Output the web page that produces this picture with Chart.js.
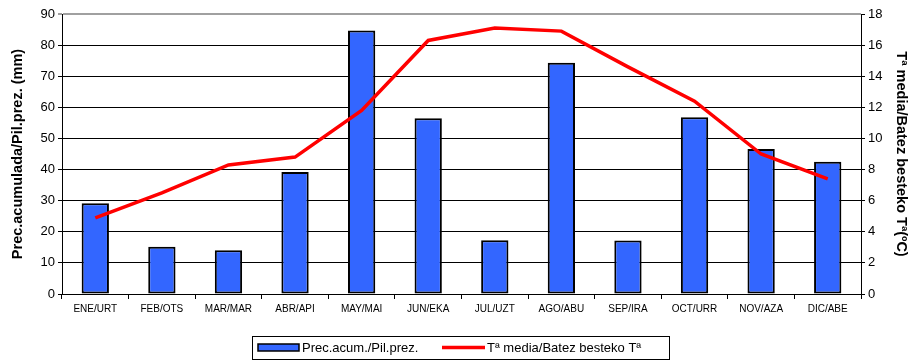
<!DOCTYPE html>
<html>
<head>
<meta charset="utf-8">
<script src="https://cdn.jsdelivr.net/npm/chart.js@4"></script>
<style>
  body { margin: 0; background: #fff; }
  canvas { display: block; }
</style>
</head>
<body>
<canvas id="climChart" width="911" height="363"></canvas>
<script>
// datos
const months = ['ENE/URT', 'FEB/OTS', 'MAR/MAR', 'ABR/API', 'MAY/MAI', 'JUN/EKA',
                'JUL/UZT', 'AGO/ABU', 'SEP/IRA', 'OCT/URR', 'NOV/AZA', 'DIC/ABE'];
const precip = [29.2, 15.2, 14.1, 39.2, 84.7, 56.5, 17.3, 74.3, 17.2, 56.8, 46.6, 42.5];
const tempMedia = [4.9, 6.5, 8.3, 8.8, 11.8, 16.3, 17.1, 16.9, 14.6, 12.4, 9.0, 7.4];

const precLabel = 'Prec.acum./Pil.prez.';
const tempLabel = 'Tª media/Batez besteko Tª';

const FONT = "'Liberation Sans', Arial, sans-serif";

// leyenda con recuadro, como en Excel
const boxLegend = {
    id: 'boxLegend',
    afterDraw(chart) {
        const ctx = chart.ctx;
        ctx.save();
        ctx.strokeStyle = '#000';
        ctx.lineWidth = 1;
        ctx.strokeRect(252.5, 336.5, 417, 23);
        // muestra de barras
        ctx.fillStyle = '#3366FF';
        ctx.fillRect(258, 344, 41, 7);
        ctx.lineWidth = 1.5;
        ctx.strokeRect(258, 344, 41, 7);
        ctx.fillStyle = '#000';
        ctx.font = '13px ' + FONT;
        ctx.textBaseline = 'middle';
        ctx.fillText(chart.data.datasets[1].label, 302, 348);
        // muestra de línea
        ctx.strokeStyle = '#FF0000';
        ctx.lineWidth = 3.5;
        ctx.beginPath();
        ctx.moveTo(442, 347.5);
        ctx.lineTo(485, 347.5);
        ctx.stroke();
        ctx.fillText(chart.data.datasets[0].label, 487, 348);
        ctx.restore();
    }
};

new Chart(document.getElementById('climChart'), {
    data: {
        labels: months,
        datasets: [
            {
                type: 'line',
                label: tempLabel,
                data: tempMedia,
                yAxisID: 'y1',
                borderColor: '#FF0000',
                borderWidth: 3.5,
                pointRadius: 0,
                tension: 0,
                order: 0
            },
            {
                type: 'bar',
                label: precLabel,
                data: precip,
                yAxisID: 'y',
                backgroundColor: '#3366FF',
                borderColor: '#000',
                borderWidth: 2,
                borderSkipped: false,
                barPercentage: 0.41,
                categoryPercentage: 1,
                order: 1
            }
        ]
    },
    options: {
        responsive: false,
        animation: false,
        layout: { padding: { top: 14, left: 0, right: 0, bottom: 0 } },
        plugins: {
            legend: { display: false },
            tooltip: { enabled: false }
        },
        scales: {
            x: {
                offset: true,
                grid: {
                    offset: true,
                    drawOnChartArea: false,
                    tickLength: 5,
                    color: '#000'
                },
                border: { color: '#000', width: 1 },
                ticks: { color: '#000', font: { family: FONT, size: 10 }, padding: 4, maxRotation: 0 },
                afterFit(s) { s.height = 69; }
            },
            y: {
                position: 'left',
                min: 0, max: 90,
                ticks: { stepSize: 10, color: '#000', font: { family: FONT, size: 13 }, padding: 3 },
                grid: {
                    color: c => c.index === 9 ? '#a0a0a0' : '#000',
                    lineWidth: c => c.index === 9 ? 2 : 1,
                    tickLength: 4
                },
                border: { color: '#000', width: 1 },
                title: {
                    display: true,
                    text: 'Prec.acumulada/Pil.prez. (mm)',
                    color: '#000',
                    font: { family: FONT, size: 14.5, weight: 'bold' },
                    padding: { top: 9, bottom: 0 }
                },
                afterFit(s) { s.width = 62; }
            },
            y1: {
                position: 'right',
                min: 0, max: 18,
                ticks: { stepSize: 2, color: '#000', font: { family: FONT, size: 13 }, padding: 3 },
                grid: { drawOnChartArea: false, tickLength: 4, color: '#000' },
                border: { color: '#000', width: 1 },
                title: {
                    display: true,
                    text: 'Tª media/Batez besteko Tª(ºC)',
                    color: '#000',
                    font: { family: FONT, size: 14.5, weight: 'bold' },
                    padding: { top: 1, bottom: 0 }
                },
                afterFit(s) { s.width = 50; }
            }
        }
    },
    plugins: [boxLegend]
});
</script>
</body>
</html>
